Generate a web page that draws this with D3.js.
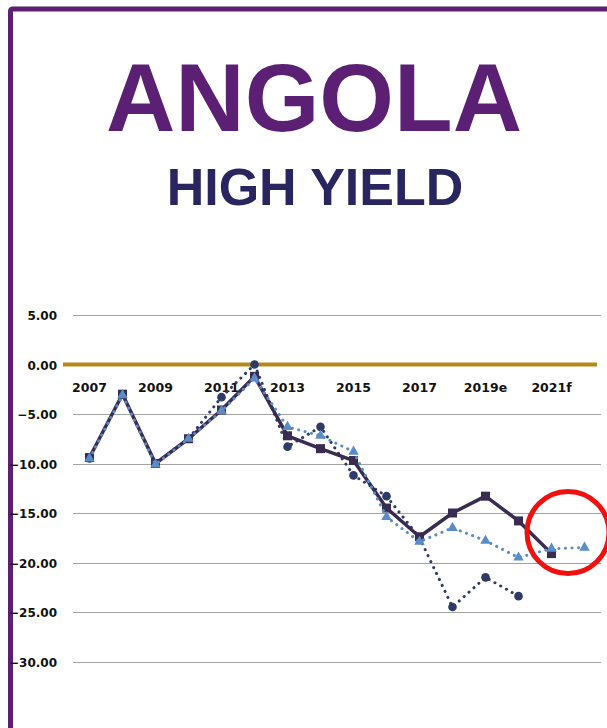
<!DOCTYPE html>
<html>
<head>
<meta charset="utf-8">
<script src="https://cdn.jsdelivr.net/npm/d3@7"></script>
<style>
  html, body { margin: 0; padding: 0; background: #fff; }
  svg { display: block; }
</style>
</head>
<body>
<svg id="chart" width="607" height="728"></svg>
<script>
// Years on the category axis (only every other one is labelled)
const categories = ["2007","2008","2009","2010","2011","2012","2013","2014","2015",
                    "2016","2017","2018","2019e","2020e","2021f","2022f"];
const labelledCategories = ["2007","2009","2011","2013","2015","2017","2019e","2021f"];

// Solid line with square markers
const seriesSquare = [-9.4, -3.0, -10.0, -7.5, -4.6, -1.2, -7.2, -8.5, -9.7,
                      -14.5, -17.4, -15.0, -13.3, -15.8, -19.1, null];
// Light blue dotted line with triangle markers
const seriesTriangle = [-9.5, -3.1, -10.1, -7.5, -4.7, -1.4, -6.3, -7.2, -8.8,
                        -15.4, -17.9, -16.5, -17.8, -19.5, -18.6, -18.5];
// Dark blue dotted line with circle markers
const seriesCircle = [-9.5, -3.0, -10.0, -7.5, -3.3, 0.0, -8.3, -6.3, -11.2,
                      -13.3, -17.5, -24.5, -21.5, -23.4, null, null];

const yTicks = [5, 0, -5, -10, -15, -20, -25, -30];

const svg = d3.select("#chart");

// Purple frame, open past the right and bottom edges
svg.append("rect")
  .attr("x", 10.5).attr("y", 9)
  .attr("width", 640).attr("height", 760)
  .attr("rx", 2)
  .attr("fill", "none")
  .attr("stroke", "#5b1f74")
  .attr("stroke-width", 5);

// Titles
svg.append("text")
  .attr("x", 314).attr("y", 131)
  .attr("text-anchor", "middle")
  .attr("font-family", "'Liberation Sans', Arial, sans-serif")
  .attr("font-weight", "bold")
  .attr("font-size", 96)
  .attr("fill", "#5b1f74")
  .text("ANGOLA");

svg.append("text")
  .attr("x", 315).attr("y", 205)
  .attr("text-anchor", "middle")
  .attr("font-family", "'Liberation Sans', Arial, sans-serif")
  .attr("font-weight", "bold")
  .attr("font-size", 52)
  .attr("fill", "#29255e")
  .text("HIGH YIELD");

// Scales
const x = d3.scaleBand().domain(categories).range([73, 601]);
const cx = d => x(d) + x.bandwidth() / 2;
const y = d3.scaleLinear().domain([-30, 5]).range([661.5, 315]);

// Horizontal gridlines
svg.append("g")
  .selectAll("line")
  .data(yTicks.filter(t => t !== 0))
  .join("line")
  .attr("x1", 73).attr("x2", 601)
  .attr("y1", d => Math.round(y(d)) + 0.5)
  .attr("y2", d => Math.round(y(d)) + 0.5)
  .attr("stroke", "#a3a3a3")
  .attr("stroke-width", 1);

// Y axis labels
const yAxis = d3.axisLeft(y).tickValues(yTicks).tickFormat(d3.format(".2f")).tickSize(0).tickPadding(0);
const gy = svg.append("g").attr("transform", "translate(57,0)").call(yAxis);
gy.select(".domain").remove();
gy.selectAll("text")
  .attr("font-family", "'DejaVu Sans', Verdana, sans-serif")
  .attr("font-weight", "bold")
  .attr("font-size", 12)
  .attr("fill", "#111")
  .attr("dy", "0.4em");

// Zero line
svg.append("line")
  .attr("x1", 63).attr("x2", 597)
  .attr("y1", y(0)).attr("y2", y(0))
  .attr("stroke", "#b5891c")
  .attr("stroke-width", 4);

// X axis labels, just under the zero line
const xAxis = d3.axisBottom(x).tickValues(labelledCategories).tickSize(0).tickPadding(0);
const gx = svg.append("g").attr("transform", "translate(0,392)").call(xAxis);
gx.select(".domain").remove();
gx.selectAll("text")
  .attr("font-family", "'DejaVu Sans', Verdana, sans-serif")
  .attr("font-weight", "bold")
  .attr("font-size", 12.5)
  .attr("fill", "#111")
  .attr("dy", 0)
  .attr("y", 0);

// Line helper
const toPoints = arr => categories.map((c, i) => ({ c, v: arr[i] }));
const line = d3.line()
  .defined(d => d.v !== null)
  .x(d => cx(d.c))
  .y(d => y(d.v));

const solidPts = toPoints(seriesSquare);
const triPts = toPoints(seriesTriangle);
const circPts = toPoints(seriesCircle);

// Dark blue dotted series with circles
svg.append("path")
  .datum(circPts)
  .attr("d", line)
  .attr("fill", "none")
  .attr("stroke", "#2d3b66")
  .attr("stroke-width", 3)
  .attr("stroke-linecap", "round")
  .attr("stroke-dasharray", "0.1 6.5");

svg.append("g")
  .selectAll("circle")
  .data(circPts.filter(d => d.v !== null))
  .join("circle")
  .attr("cx", d => cx(d.c))
  .attr("cy", d => y(d.v))
  .attr("r", 4.3)
  .attr("fill", "#2d3b66");

// Solid series with squares
svg.append("path")
  .datum(solidPts)
  .attr("d", line)
  .attr("fill", "none")
  .attr("stroke", "#3a2c50")
  .attr("stroke-width", 3.5)
  .attr("stroke-linejoin", "round");

svg.append("g")
  .selectAll("rect")
  .data(solidPts.filter(d => d.v !== null))
  .join("rect")
  .attr("x", d => cx(d.c) - 4.5)
  .attr("y", d => y(d.v) - 4.5)
  .attr("width", 9).attr("height", 9)
  .attr("fill", "#3a2c50");

// Light blue dotted series with triangles
svg.append("path")
  .datum(triPts)
  .attr("d", line)
  .attr("fill", "none")
  .attr("stroke", "#5a8cc6")
  .attr("stroke-width", 3)
  .attr("stroke-linecap", "round")
  .attr("stroke-dasharray", "0.1 6.5");

const tri = d3.symbol().type(d3.symbolTriangle).size(48);
svg.append("g")
  .selectAll("path")
  .data(triPts.filter(d => d.v !== null))
  .join("path")
  .attr("transform", d => `translate(${cx(d.c)},${y(d.v)})`)
  .attr("d", tri)
  .attr("fill", "#5a8cc6");

// Red highlight ring
svg.append("circle")
  .attr("cx", 568).attr("cy", 532.5)
  .attr("r", 41)
  .attr("fill", "none")
  .attr("stroke", "#f01010")
  .attr("stroke-width", 5);
</script>
</body>
</html>
